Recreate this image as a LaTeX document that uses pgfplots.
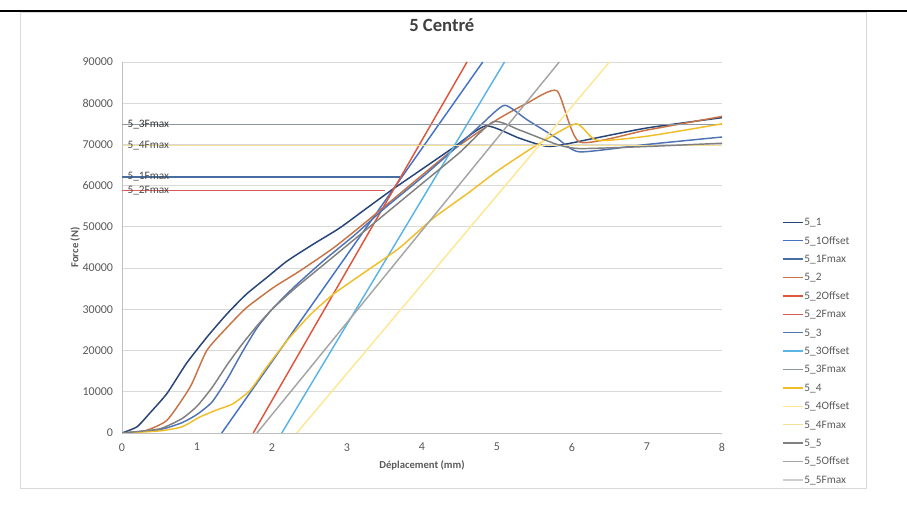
\documentclass[border=0pt]{standalone}
\usepackage{pgfplots}
\pgfplotsset{compat=1.18}
\usepackage{fontspec}
\setmainfont{Carlito}
\definecolor{c51}{RGB}{38,68,120}
\definecolor{c51o}{RGB}{68,114,196}
\definecolor{c51f}{RGB}{70,110,160}
\definecolor{c52}{RGB}{200,115,70}
\definecolor{c52o}{RGB}{225,85,60}
\definecolor{c52f}{RGB}{220,90,90}
\definecolor{c53}{RGB}{80,115,180}
\definecolor{c53o}{RGB}{91,180,229}
\definecolor{c53f}{RGB}{140,150,160}
\definecolor{c54}{RGB}{240,190,40}
\definecolor{c54o}{RGB}{255,230,150}
\definecolor{c54f}{RGB}{245,225,150}
\definecolor{c55}{RGB}{128,128,128}
\definecolor{c55o}{RGB}{165,165,165}
\definecolor{c55f}{RGB}{205,205,205}
\definecolor{tickc}{RGB}{89,89,89}
\definecolor{gridc}{RGB}{217,217,217}
\definecolor{axc}{RGB}{191,191,191}
\begin{document}
\begin{tikzpicture}
\path[use as bounding box] (0,0) rectangle (680.25pt,387pt);
\draw[gridc, line width=0.6pt] (15pt,21pt) rectangle (649.5pt,378pt);
\draw[black, line width=1.5pt] (0,378.75pt) -- (680.25pt,378.75pt);
\begin{axis}[
  at={(91.5pt,62.25pt)}, anchor=south west,
  scale only axis, width=450pt, height=278.25pt,
  xmin=0, xmax=8, ymin=0, ymax=90000,
  xtick={0,1,...,8}, ytick={0,10000,...,90000},
  scaled y ticks=false,
  yticklabel style={/pgf/number format/1000 sep={}},
  /pgf/number format/assume math mode=true,
  tick label style={font=\fontsize{9}{10}\selectfont, text=tickc},
  xticklabel style={anchor=north, inner sep=0pt, yshift=-7.5pt},
  yticklabel style={anchor=east, inner sep=0pt, xshift=-6.5pt},
  major tick length=0pt,
  axis lines=left,
  axis line style={-, draw=axc, line width=0.6pt},
  xmajorgrids=false, ymajorgrids=true,
  major grid style={draw=gridc, line width=0.6pt},
  title={\textbf{5 Centré}},
  title style={at={(axis description cs:0.533,1.078)}, anchor=center, font=\fontsize{14}{16}\selectfont, text=black!75},
  xlabel={\textbf{Déplacement (mm)}},
  xlabel style={at={(axis description cs:0.5,-0.088)}, anchor=center, font=\fontsize{8}{9}\selectfont, text=tickc},
  ylabel={\textbf{Force (N)}},
  every axis y label/.style={at={(axis description cs:-0.078,0.5)}, rotate=90, anchor=center, font=\fontsize{8}{9}\selectfont, text=tickc},
  legend style={at={(axis description cs:1.093,0.593)}, anchor=north west, draw=none, fill=none,
    font=\fontsize{8.5}{9}\selectfont, text=tickc, row sep=4.2pt,
    nodes={inner sep=0.8pt, text height=6.5pt, text depth=1.5pt}},
  legend cell align=left,
  legend image code/.code={\draw[#1, line width=1pt] (0pt,0pt) -- (15pt,0pt);},
  every axis plot/.append style={line width=1.1pt},
  clip=true,
]
% 5_1
\addplot[c51, smooth, tension=0.35] coordinates {(0,0) (0.2,1500) (0.37,4800) (0.6,9600) (0.86,16900) (1.13,23200) (1.4,28900) (1.66,33700) (1.93,37700) (2.2,41700) (2.55,45800) (2.9,49700) (3.26,54500) (3.6,59000) (4.0,64000) (4.4,69000) (4.85,74500) (5.3,71500) (5.7,69500) (6.3,71500) (7,74000) (8,76500)};
\addlegendentry{5\_1}
\addplot[c51o] coordinates {(1.33,0) (4.81,90000)};
\addlegendentry{5\_1Offset}
\addplot[c51f, line width=0.9pt] coordinates {(0,62100) (3.7,62100)};
\addlegendentry{5\_1Fmax}
% 5_2
\addplot[c52, smooth, tension=0.35] coordinates {(0,0) (0.3,500) (0.6,3100) (0.91,11200) (1.13,20000) (1.4,25600) (1.66,30400) (2.02,35300) (2.37,39300) (2.82,44900) (3.26,51300) (3.8,59500) (4.4,68500) (5.0,76000) (5.4,80000) (5.8,83000) (6.1,70600) (7,73500) (8,76800)};
\addlegendentry{5\_2}
\addplot[c52o] coordinates {(1.75,0) (4.6,90000)};
\addlegendentry{5\_2Offset}
\addplot[c52f, line width=0.9pt] coordinates {(0,58800) (3.5,58800)};
\addlegendentry{5\_2Fmax}
% 5_3
\addplot[c53, smooth, tension=0.35] coordinates {(0,0) (0.5,800) (0.8,2500) (1.0,4500) (1.2,7500) (1.4,13000) (1.6,19500) (1.8,25500) (2.0,30000) (2.3,35500) (2.7,42000) (3.1,48000) (3.5,54500) (4.0,62000) (4.5,70000) (4.8,75000) (5.1,79500) (5.4,76000) (5.8,71500) (6.1,68200) (7,70000) (8,71800)};
\addlegendentry{5\_3}
\addplot[c53o] coordinates {(2.13,0) (5.1,90000)};
\addlegendentry{5\_3Offset}
\addplot[c53f, line width=0.9pt] coordinates {(0,74800) (8,74800)};
\addlegendentry{5\_3Fmax}
% 5_4
\addplot[c54, smooth, tension=0.35] coordinates {(0,0) (0.5,500) (0.8,1500) (1.04,3900) (1.25,5500) (1.48,7100) (1.71,10400) (1.93,16000) (2.2,22400) (2.5,28500) (2.82,33700) (3.26,39300) (3.7,44900) (4.15,52100) (4.6,58000) (5.0,63500) (5.5,69500) (6.05,75000) (6.33,71000) (7,72000) (8,75000)};
\addlegendentry{5\_4}
\addplot[c54o] coordinates {(2.33,0) (6.5,90000)};
\addlegendentry{5\_4Offset}
\addplot[c54f, line width=0.9pt] coordinates {(0,69800) (8,69800)};
\addlegendentry{5\_4Fmax}
% 5_5
\addplot[c55, smooth, tension=0.35] coordinates {(0,0) (0.5,1000) (0.8,3500) (1.0,6500) (1.2,11000) (1.4,16500) (1.6,21500) (1.8,26000) (2.0,30000) (2.3,35000) (2.7,41000) (3.1,47000) (3.5,53000) (4.0,60500) (4.5,68000) (4.95,75500) (5.3,73500) (5.8,70000) (6.1,69000) (7,69500) (8,70300)};
\addlegendentry{5\_5}
\addplot[c55o] coordinates {(1.8,0) (5.83,90000)};
\addlegendentry{5\_5Offset}
\addplot[c55f, line width=0.9pt] coordinates {(0,69800) (0.01,69800)};
\addlegendentry{5\_5Fmax}
% Fmax labels
\node[font=\fontsize{8.5}{9}\selectfont, text=black!80, anchor=west, inner sep=0pt] at (axis cs:0.07,74800) {5\_3Fmax};
\node[font=\fontsize{8.5}{9}\selectfont, text=black!70, anchor=west, inner sep=0pt] at (axis cs:0.07,69800) {5\_4Fmax};
\node[font=\fontsize{8.5}{9}\selectfont, text=black!70, anchor=west, inner sep=0pt] at (axis cs:0.07,62100) {5\_1Fmax};
\node[font=\fontsize{8.5}{9}\selectfont, text=black!70, anchor=west, inner sep=0pt] at (axis cs:0.07,58800) {5\_2Fmax};
\end{axis}
\end{tikzpicture}
\end{document}
